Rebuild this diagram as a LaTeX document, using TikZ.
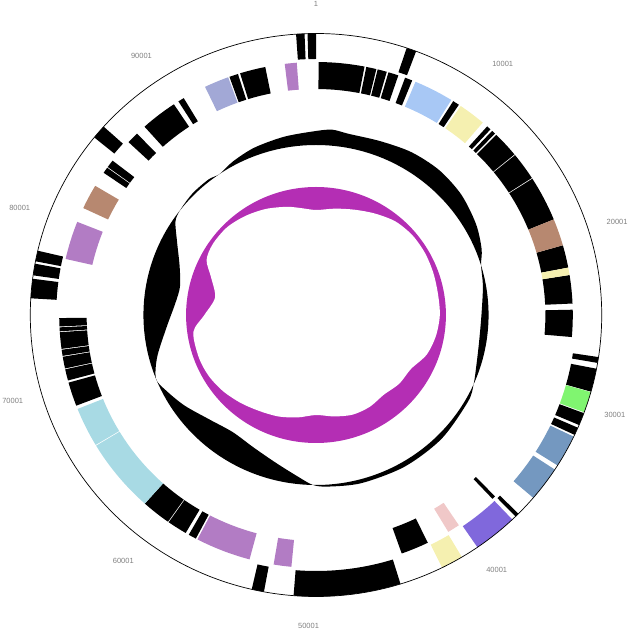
\documentclass[tikz,border=0pt]{standalone}
\usepackage{fontspec}
\setmainfont{Liberation Sans}
\usepackage{tikz}

\definecolor{orchidc}{RGB}{178,124,196}
\definecolor{skyc}{RGB}{168,200,245}
\definecolor{paleyel}{RGB}{245,240,176}
\definecolor{brownc}{RGB}{183,136,112}
\definecolor{greenc}{RGB}{128,245,112}
\definecolor{steelc}{RGB}{116,152,192}
\definecolor{slatec}{RGB}{128,104,220}
\definecolor{pinkc}{RGB}{240,200,200}
\definecolor{cyanc}{RGB}{168,218,228}
\definecolor{lavc}{RGB}{162,168,214}
\definecolor{gcmag}{RGB}{180,46,180}

% one feature: start, end (degrees clockwise from top), inner and outer radius, style
\newcommand{\genebox}[5]{%
  \path[#5] (90-#1:#4) arc[start angle=90-#1, end angle=90-#2, radius=#4]
    -- (90-#2:#3) arc[start angle=90-#2, end angle=90-#1, radius=#3] -- cycle;}

\begin{document}
\begin{tikzpicture}[x=1pt, y=1pt,
        cds/.style={fill=black},
        tick/.style={text=black!50, font=\fontsize{7.5}{9}\selectfont, inner sep=1pt}
        ]
  \useasboundingbox (0,0) rectangle (630,632);
  \begin{scope}[shift={(316,317)}, xscale=1.015]

    % GC content
    \fill[gcmag] (0,0) circle[radius=128];
    \fill[white] plot[smooth cycle] coordinates {
      (90:105) (80:108) (70:112) (60:117) (50:122) (40:124) (30:124) (20:123)
      (10:122) (0:122) (-10:120) (-20:116) (-30:108) (-40:107) (-50:104)
      (-60:106) (-70:106) (-80:103) (-90:100) (-100:104) (-110:108) (-120:111)
      (-130:115) (-140:119) (-150:122) (-160:123) (-172:122) (-180:110)
      (-190:101) (-200:110) (-207:121) (-215:124) (-225:124) (-235:121)
      (-245:117) (-255:112) (-262:108)};

    % GC skew
    \fill[black, even odd rule] plot[smooth cycle] coordinates {
      (90:184) (85:186) (80:184) (70:185) (60:188) (50:189) (40:187) (30:182)
      (22:176) (17:170) (10:167) (0:163) (-10:163) (-18:166) (-24:170)
      (-30:173) (-45:175) (-60:175) (-75:174) (-86:172) (-91:170) (-96:163)
      (-105:153) (-115:146) (-125:143) (-135:148) (-145:158) (-153:166)
      (-158:170) (-165:162) (-175:148) (-185:139) (-192:137) (-200:143)
      (-208:155) (-214:167) (-218:170) (-225:172) (-232:172) (-236:170)
      (-242:174) (-250:178) (-260:181)}
      (0,0) circle[radius=170];

    % forward strand
    \foreach \s/\e in {356.0/357.7, 358.3/360.0, 18.5/20.5, 98.6/99.8, 101.0/105.8,
        110.4/113.0, 113.6/115.2, 134.9/135.7, 162.8/184.5, 190.5/193.0,
        273.4/277.4, 278.1/280.5, 281.0/283.2, 309.1/312.0}
      {\genebox{\s}{\e}{256}{281.5}{cds}}
    \genebox{105.9}{110.2}{256}{281.5}{fill=greenc}
    \genebox{115.6}{122.3}{256}{281.5}{fill=steelc}
    \genebox{123.3}{130.5}{256}{281.5}{fill=steelc}
    \genebox{136.6}{145.6}{256}{281.5}{fill=slatec}
    \genebox{149.3}{153.8}{256}{281.5}{fill=paleyel}

    % reverse strand
    \foreach \s/\e in {0.6/10.9, 11.3/13.6, 13.9/16.0, 16.4/18.7, 20.3/22.0,
        32.3/33.8, 41.8/42.8, 43.3/44.2, 44.6/50.6, 50.8/57.2, 57.4/67.8,
        74.0/79.2, 80.9/87.4, 88.8/95.0, 135.8/136.6, 154.2/160.5,
        207.9/209.7, 210.5/215.0, 215.2/221.8, 249.0/254.5, 255.0/257.6,
        257.8/260.5, 260.7/262.1, 262.3/266.1, 266.3/267.2, 267.4/269.3,
        304.2/305.6, 305.8/307.6, 313.1/315.8, 318.1/326.4, 327.6/329.0,
        340.3/342.3, 342.8/348.6}
      {\genebox{\s}{\e}{226}{253}{cds}}
    \foreach \s/\e in {353.0/355.7, 185.5/189.5, 195.0/207.5, 282.8/291.6}
      {\genebox{\s}{\e}{226}{253}{fill=orchidc}}
    \genebox{22.8}{31.8}{226}{253}{fill=skyc}
    \genebox{34.3}{40.5}{226}{253}{fill=paleyel}
    \genebox{79.2}{80.9}{226}{253}{fill=paleyel}
    \genebox{67.8}{74.0}{226}{253}{fill=brownc}
    \genebox{295.0}{300.7}{226}{253}{fill=brownc}
    \genebox{146.2}{149.0}{226}{253}{fill=pinkc}
    \genebox{221.8}{238.9}{226}{253}{fill=cyanc}
    \genebox{239.1}{248.2}{226}{253}{fill=cyanc}
    \genebox{334.4}{340.0}{226}{253}{fill=lavc}

    \draw[line width=0.7pt] (0,0) circle[radius=281.5];

    \foreach \k/\lab in {0/1, 1/10001, 2/20001, 3/30001, 4/40001,
        5/50001, 6/60001, 7/70001, 8/80001, 9/90001}
      \node[tick] (lab\k) at ({90-\k*36.27}:311) {\lab};
  \end{scope}
\end{tikzpicture}
\end{document}
